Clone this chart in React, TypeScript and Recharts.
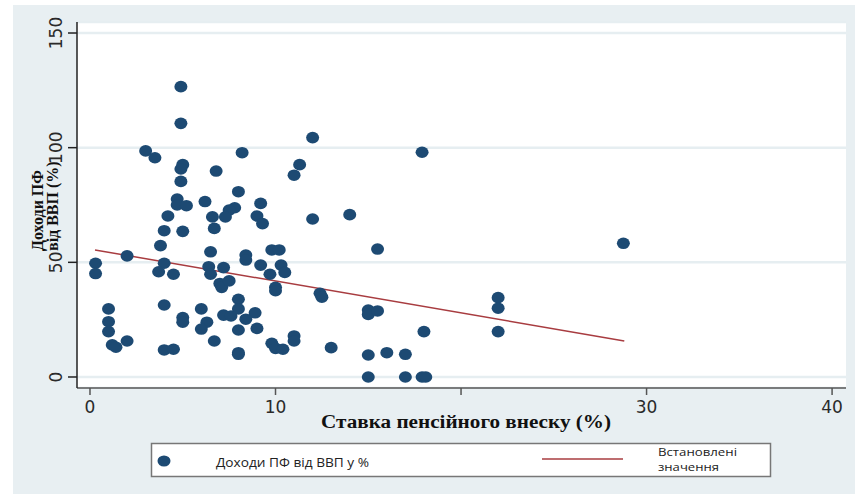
import { ComposedChart, Scatter, Line, XAxis, YAxis, CartesianGrid } from "recharts";

// contribution rate (%) and pension fund revenue (% of GDP)
const rateX = [
  4.9, 4.9, 12.0, 3.0, 3.5, 8.2, 17.9, 5.0, 4.9, 11.3,
  6.8, 11.0, 4.9, 8.0, 4.7, 4.7, 5.2, 6.2, 9.2, 7.8,
  7.5, 6.6, 7.3, 4.2, 9.0, 9.3, 12.0, 14.0, 4.0, 5.0,
  6.7, 3.8, 9.8, 10.2, 15.5, 6.5, 8.4, 8.4, 2.0, 0.3,
  0.3, 4.0, 3.7, 4.5, 6.4, 6.5, 7.2, 9.2, 10.3, 10.5,
  9.7, 7.0, 7.1, 7.5, 10.0, 10.0, 12.4, 12.5, 4.0, 1.0,
  6.0, 8.0, 8.0, 8.9, 7.2, 7.6, 1.0, 5.0, 5.0, 6.3,
  8.4, 1.0, 6.0, 8.0, 9.0, 15.0, 15.0, 11.0, 11.0, 2.0,
  1.2, 1.4, 6.7, 4.0, 4.5, 8.0, 8.0, 9.8, 10.0, 10.4,
  13.0, 16.0, 17.0, 17.0, 17.9, 18.1, 18.0, 15.0, 15.0, 15.5,
  22.0, 22.0, 22.0, 28.75,
];
const revenueY = [
  126.6, 110.6, 104.4, 98.6, 95.6, 97.8, 98.0, 92.6, 90.7, 92.6,
  89.8, 88.0, 85.3, 80.8, 77.6, 75.0, 74.7, 76.5, 75.7, 73.8,
  72.8, 69.8, 69.8, 70.2, 70.2, 66.9, 68.9, 70.8, 63.8, 63.5,
  64.8, 57.3, 55.4, 55.4, 55.8, 54.6, 53.2, 51.0, 52.8, 49.6,
  45.1, 49.6, 45.9, 44.8, 48.1, 44.8, 47.7, 48.8, 48.8, 45.6,
  44.8, 40.8, 39.1, 41.9, 39.1, 37.6, 36.5, 34.8, 31.4, 29.7,
  29.7, 33.9, 29.7, 28.0, 27.0, 26.6, 24.1, 25.9, 23.9, 23.9,
  25.2, 19.8, 20.9, 20.5, 21.2, 9.6, 0, 17.9, 15.7, 15.7,
  14.0, 13.0, 15.7, 11.8, 12.1, 10.6, 9.9, 14.7, 12.5, 12.1,
  12.8, 10.6, 9.9, 0, 0, 0, 19.8, 29.2, 27.3, 28.8,
  34.6, 30.0, 19.8, 58.3,
];

// fitted values line endpoints
const fitX = [0.27, 28.8];
const fitY = [55.4, 15.7];

const xTicks = [0, 10, 20, 30, 40];
const yTicks = [0, 50, 100, 150];

const points = rateX.map((x, i) => ({ x, y: revenueY[i] }));
const fit = fitX.map((x, i) => ({ x, y: fitY[i] }));

const DOT = "#1d4a73";
const FIT = "#a83c40";
const BG = "#e8eff2";

const Dot = (props: any) => {
  const { cx, cy } = props;
  if (cx == null || cy == null) return <g />;
  return <ellipse cx={cx} cy={cy} rx={6.5} ry={5.8} fill={DOT} />;
};

const XTick = ({ x, payload }: any) => {
  if (payload.value === 20) return <g />;
  return (
    <text x={x} y={413} textAnchor="middle" fontFamily="DejaVu Sans" fontSize={17} fill="#2a2a2a">
      {payload.value}
    </text>
  );
};

const YTick = ({ y, payload }: any) => (
  <text
    x={62}
    y={y}
    transform={`rotate(-90 62 ${y})`}
    textAnchor="middle"
    fontFamily="DejaVu Sans"
    fontSize={17}
    fill="#2a2a2a"
  >
    {payload.value}
  </text>
);

export default function App() {
  return (
    <div style={{ position: "absolute", left: 0, top: 0, width: 855, height: 494, background: "#fff" }}>
      <div style={{ position: "absolute", left: 13, top: 5, width: 842, height: 489, background: BG }} />
      <div style={{ position: "absolute", left: 0, top: 0 }}>
        <ComposedChart width={855} height={494} margin={{ top: 22, right: 9, left: 0, bottom: 66 }}>
          <CartesianGrid vertical={false} stroke="#e6eef1" strokeWidth={2.5} fill="#ffffff" />
          <XAxis
            type="number"
            dataKey="x"
            domain={[-0.7, 40.75]}
            ticks={xTicks}
            allowDataOverflow
            height={40}
            tick={<XTick />}
            tickSize={7}
            stroke="#555"
            strokeWidth={1.5}
          />
          <YAxis
            type="number"
            dataKey="y"
            domain={[-4.8, 154.8]}
            ticks={yTicks}
            allowDataOverflow
            width={77}
            tick={<YTick />}
            tickSize={9}
            stroke="#222"
            strokeWidth={1.5}
          />
          <Scatter data={points} dataKey="y" shape={<Dot />} isAnimationActive={false} />
          <Line
            data={fit}
            dataKey="y"
            type="linear"
            stroke={FIT}
            strokeWidth={1.5}
            dot={false}
            activeDot={false}
            isAnimationActive={false}
          />
        </ComposedChart>
      </div>
      <svg
        width={855}
        height={494}
        style={{ position: "absolute", left: 0, top: 0, pointerEvents: "none" }}
      >
        <text
          x={466}
          y={428}
          textAnchor="middle"
          fontFamily="Liberation Serif"
          fontWeight="bold"
          fontSize={18}
          textLength={290}
          lengthAdjust="spacingAndGlyphs"
          fill="#111"
        >
          Ставка пенсійного внеску (%)
        </text>
        <text
          x={43}
          y={251}
          transform="rotate(-90 43 251)"
          fontFamily="Liberation Serif"
          fontWeight="bold"
          fontSize={16}
          fill="#111"
        >
          Доходи ПФ
        </text>
        <text
          x={58}
          y={251}
          transform="rotate(-90 58 251)"
          fontFamily="Liberation Serif"
          fontWeight="bold"
          fontSize={16}
          fill="#111"
        >
          від ВВП (%)
        </text>
        <g transform="translate(151 443)">
          <rect x={0.5} y={0.5} width={619} height={33} fill="#fff" stroke="#777" strokeWidth={1.5} />
          <ellipse cx={13} cy={18} rx={6.5} ry={5.5} fill={DOT} />
          <text
            x={65}
            y={24}
            fontFamily="Open Sans"
            fontSize={12.5}
            textLength={153}
            lengthAdjust="spacingAndGlyphs"
            fill="#222"
          >
            Доходи ПФ від ВВП у %
          </text>
          <line x1={391} y1={16} x2={472} y2={16} stroke={FIT} strokeWidth={1.5} />
          <text
            x={507}
            y={13}
            fontFamily="Open Sans"
            fontSize={11}
            textLength={79}
            lengthAdjust="spacingAndGlyphs"
            fill="#222"
          >
            Встановлені
          </text>
          <text
            x={507}
            y={28}
            fontFamily="Open Sans"
            fontSize={11}
            textLength={61}
            lengthAdjust="spacingAndGlyphs"
            fill="#222"
          >
            значення
          </text>
        </g>
      </svg>
    </div>
  );
}
